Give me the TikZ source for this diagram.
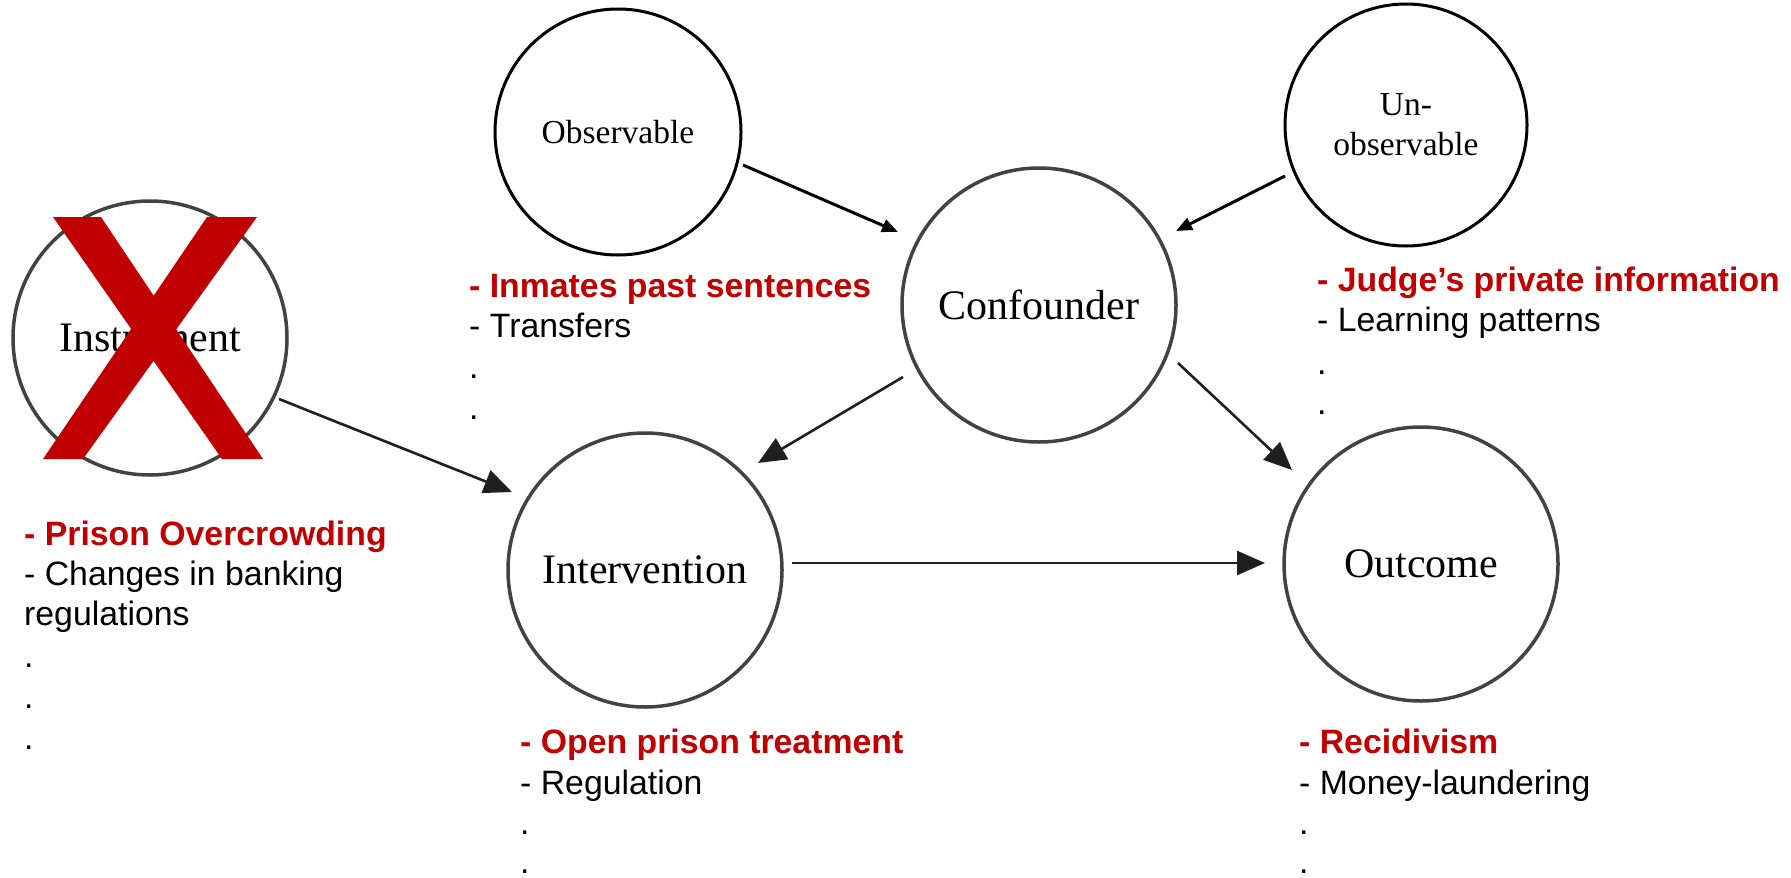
\documentclass[tikz,border=0pt]{standalone}
\usepackage{fontspec}
\setmainfont{Liberation Serif}
\newfontfamily\arialfont{Liberation Sans}
\usetikzlibrary{arrows.meta,calc}
\definecolor{xred}{RGB}{192,0,0}
\definecolor{cgray}{RGB}{66,66,66}
\begin{document}
\begin{tikzpicture}[x=1pt,y=-1pt,
  topc/.style={circle, draw=black, line width=3pt, inner sep=0pt, font=\fontsize{33.5}{40}\selectfont},
  grc/.style={circle, draw=cgray, line width=3.5pt, inner sep=0pt, font=\fontsize{42}{50}\selectfont},
  gar/.style={draw=black!88, line width=2.6pt, -{Triangle[length=28pt,width=24pt]}},
  tar/.style={draw=black, line width=3pt, -{Triangle[length=16pt,width=13pt]}},
  redln/.style={font=\arialfont\bfseries\fontsize{33.8}{40}\selectfont, text=xred, anchor=base west, inner sep=0pt},
  blkln/.style={font=\arialfont\fontsize{33.8}{40}\selectfont, text=black, anchor=base west, inner sep=0pt}]
\useasboundingbox (0,0) rectangle (1791,878);

% circles
\node[topc, minimum size=246pt] (obs) at (618,132) {Observable};
\node[topc, minimum size=242pt, align=center] (unobs) at (1406,125) {Un-\\observable};
\node[grc, minimum size=274pt] (conf) at (1039,305) {Confounder};
\node[grc, minimum size=274pt] (inst) at (150,338) {Instrument};
\node[grc, minimum size=274pt] (int) at (645,570) {Intervention};
\node[grc, minimum size=274pt] (out) at (1421,564) {Outcome};

% connectors
\draw[tar] ($(obs)+(125,33)$) -- ($(conf)+(-141,-73)$);
\draw[tar] ($(unobs)+(-121,51)$) -- ($(conf)+(137,-74)$);
\draw[gar] ($(conf)+(-136,72)$) -- ($(int)+(113,-107)$);
\draw[gar] ($(conf)+(139,58)$) -- ($(out)+(-129,-94)$);
\draw[gar] ($(int)+(147,-7)$) -- ($(out)+(-156,-1)$);
\draw[gar] ($(inst)+(129,61)$) -- ($(int)+(-133,-78)$);

% red cross over the instrument
\fill[xred] (53,217) -- (101,217) -- (263,459) -- (222,459) -- cycle;
\fill[xred] (207,217) -- (257,217) -- (83,459) -- (43,459) -- cycle;

% observable examples
\node[redln] (o1) at (469,297) {- Inmates past sentences};
\node[blkln] (o2) at (469,337) {- Transfers};
\node[blkln] (o3) at (469,378) {.};
\node[blkln] (o4) at (469,419) {.};

% unobservable examples
\node[redln] (u1) at (1317,291) {- Judge’s private information};
\node[blkln] (u2) at (1317,331) {- Learning patterns};
\node[blkln] (u3) at (1317,374) {.};
\node[blkln] (u4) at (1317,414) {.};

% instrument examples
\node[redln] (i1) at (24,545) {- Prison Overcrowding};
\node[blkln] (i2) at (24,585) {- Changes in banking};
\node[blkln] (i3) at (24,625) {regulations};
\node[blkln] (i4) at (24,667) {.};
\node[blkln] (i5) at (24,708) {.};
\node[blkln] (i6) at (24,749) {.};

% intervention examples
\node[redln] (v1) at (520,753) {- Open prison treatment};
\node[blkln] (v2) at (520,794) {- Regulation};
\node[blkln] (v3) at (520,834) {.};
\node[blkln] (v4) at (520,873) {.};

% outcome examples
\node[redln] (r1) at (1299,753) {- Recidivism};
\node[blkln] (r2) at (1299,794) {- Money-laundering};
\node[blkln] (r3) at (1299,834) {.};
\node[blkln] (r4) at (1299,873) {.};
\end{tikzpicture}
\end{document}
